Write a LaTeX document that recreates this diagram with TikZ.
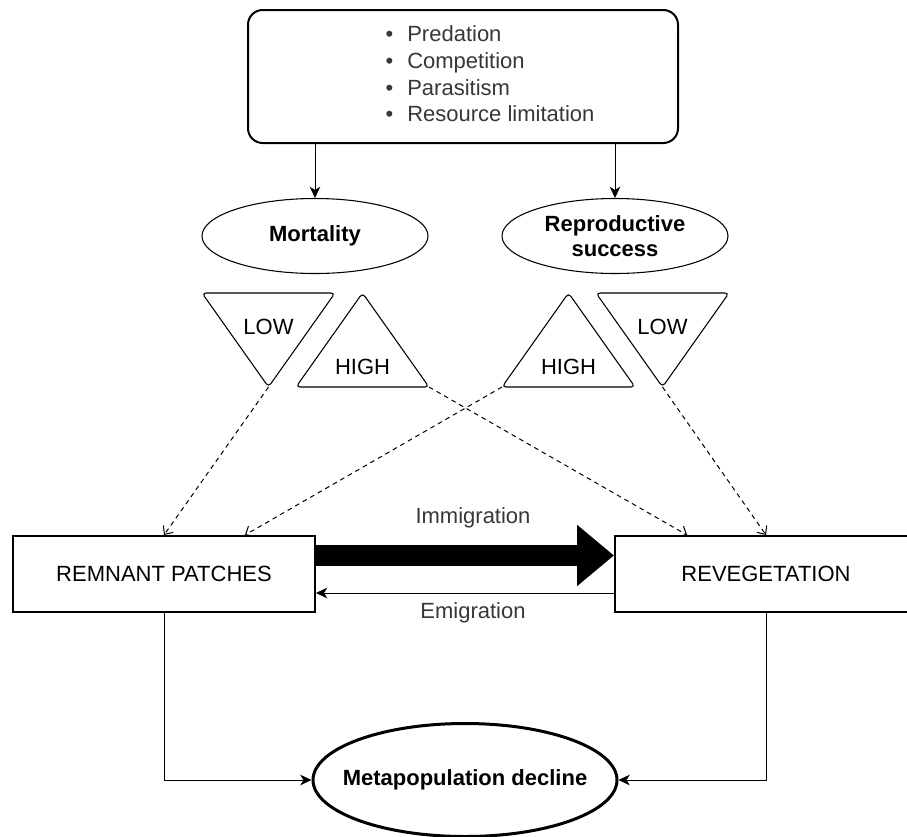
\documentclass[tikz,border=0pt]{standalone}
\usepackage{fontspec}
\setmainfont{Liberation Sans}
\usetikzlibrary{arrows.meta,shapes.geometric,positioning}
\definecolor{labelgrey}{RGB}{55,55,55}

\begin{document}
\begin{tikzpicture}[x=0.75pt,y=-0.75pt,>={Stealth[length=8.5pt,width=8pt,inset=2.5pt]},
    txt/.style={font=\fontsize{16.5}{20}\selectfont},
    bold/.style={font=\bfseries\fontsize{16.5}{19}\selectfont},
    patch/.style={draw,line width=1.5pt,minimum width=226.5pt,minimum height=57pt,inner sep=0pt,txt},
    factor/.style={draw,ellipse,line width=0.8pt,minimum width=169.5pt,minimum height=56.25pt,inner sep=0pt,align=center,bold},
    level/.style={draw,line width=0.8pt,rounded corners=3pt},
    link/.style={->,line width=0.75pt},
    effect/.style={-{Straight Barb[length=5pt,width=9pt]},line width=0.75pt,dash pattern=on 3.5pt off 3pt}]
  \clip (0,0) rectangle (907,836);

  % what drives the two rates
  \node[draw,rounded corners=11pt,line width=1.5pt,minimum width=322.5pt,minimum height=99.75pt,txt,text=labelgrey] (causes) at (463,76.5)
    {\begin{tabular}{@{\hspace{40.5pt}}l@{}}
      \textbullet\hspace{10.5pt}Predation\\
      \textbullet\hspace{10.5pt}Competition\\
      \textbullet\hspace{10.5pt}Parasitism\\
      \textbullet\hspace{10.5pt}Resource limitation
    \end{tabular}};
  \node[factor] (mort) at (315,236) {Mortality};
  \node[factor] (repro) at (615,236) {Reproductive\\success};
  \draw[link] (causes.south -| mort) -- (mort);
  \draw[link] (causes.south -| repro) -- (repro);

  % low / high
  \draw[level] (202,293) -- (335,293) -- (268.5,387) coordinate (lowmort) -- cycle;
  \draw[level] (362.5,293) -- (429,387) coordinate (highmort) -- (296,387) -- cycle;
  \draw[level] (568.5,293) -- (635,387) -- (502,387) coordinate (highrep) -- cycle;
  \draw[level] (596,293) -- (729,293) -- (662.5,387) coordinate (lowrep) -- cycle;
  \node[txt] (lowm) at (268.5,327) {LOW};
  \node[txt] (highm) at (362.5,367) {HIGH};
  \node[txt] (highr) at (568.5,367) {HIGH};
  \node[txt] (lowr) at (662.5,327) {LOW};

  % habitat patches
  \node[patch] (remnant) at (164,574) {REMNANT PATCHES};
  \node[patch] (reveg) at (766,574) {REVEGETATION};
  \node[draw,ellipse,line width=2.25pt,minimum width=228pt,minimum height=84.75pt,inner xsep=-12pt,inner ysep=0pt,bold] (decline) at (465,780) {Metapopulation decline};

  \draw[effect] (lowmort) -- (remnant.north);
  \draw[effect] (highrep) -- ([xshift=60.75pt]remnant.north);
  \draw[effect] (highmort) -- ([xshift=-59.25pt]reveg.north);
  \draw[effect] (lowrep) -- (reveg.north);

  \draw[-{Triangle[length=27.75pt,width=44.25pt]},line width=15.75pt] ([yshift=13.9pt]remnant.east) -- ([yshift=13.9pt]reveg.west)
    node[midway,yshift=28pt,xshift=6pt,txt,text=labelgrey] (immig) {Immigration};
  \draw[link] ([yshift=-14.25pt]reveg.west) -- ([yshift=-14.25pt]remnant.east)
    node[midway,yshift=-15pt,xshift=6pt,txt,text=labelgrey] (emig) {Emigration};

  \draw[link] (remnant.south) |- (decline.west);
  \draw[link] (reveg.south) |- (decline.east);
\end{tikzpicture}
\end{document}
